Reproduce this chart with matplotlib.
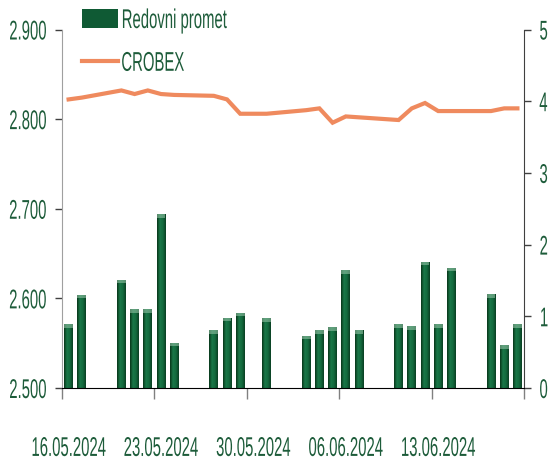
import numpy as np
import pandas as pd
import matplotlib
matplotlib.use('Agg')
import matplotlib.pyplot as plt
import matplotlib.dates as mdates
from matplotlib.patches import Patch
from matplotlib.lines import Line2D
from matplotlib.colors import LinearSegmentedColormap
from matplotlib.patheffects import AbstractPathEffect
from matplotlib.transforms import Affine2D

dates = ['2024-05-16', '2024-05-17', '2024-05-20', '2024-05-21', '2024-05-22', '2024-05-23',
         '2024-05-24', '2024-05-27', '2024-05-28', '2024-05-29', '2024-05-31', '2024-06-03',
         '2024-06-04', '2024-06-05', '2024-06-06', '2024-06-07', '2024-06-10', '2024-06-11',
         '2024-06-12', '2024-06-13', '2024-06-14', '2024-06-17', '2024-06-18', '2024-06-19']
redovni_promet = [0.89, 1.30, 1.51, 1.10, 1.10, 2.42, 0.63, 0.81, 0.98, 1.05, 0.97, 0.73,
                  0.81, 0.85, 1.64, 0.81, 0.89, 0.86, 1.76, 0.89, 1.68, 1.31, 0.60, 0.89]
crobex = [2822, 2824, 2832, 2828, 2832, 2828, 2827, 2826, 2822, 2806, 2806, 2810,
          2812, 2796, 2803, 2802, 2799, 2812, 2818, 2809, 2809, 2809, 2812, 2812]
label_dates = ['2024-05-16', '2024-05-23', '2024-05-30', '2024-06-06', '2024-06-13']

text_green = '#1d5c3a'
line_color = '#ef8a5e'
plt.rcParams['font.family'] = ['Liberation Sans', 'DejaVu Sans']
fs = 19.5
sx = 0.55


class Squeeze(AbstractPathEffect):
    # narrow the glyphs horizontally (reference uses a very condensed font)
    def __init__(self, sx, anchor):
        super().__init__()
        self.sx = sx
        self.anchor = anchor

    def draw_path(self, renderer, gc, tpath, affine, rgbFace=None):
        ext = tpath.get_extents()
        cx = {'left': ext.x0, 'right': ext.x1, 'center': 0.5 * (ext.x0 + ext.x1)}[self.anchor]
        squeeze = Affine2D().translate(-cx, 0).scale(self.sx, 1).translate(cx, 0)
        renderer.draw_path(gc, tpath, squeeze + affine, rgbFace)


x = mdates.date2num(pd.to_datetime(dates))
x_lab = mdates.date2num(pd.to_datetime(label_dates))
start = x[0] - 0.5

fig = plt.figure(figsize=(5.48, 4.62), dpi=100)
ax = fig.add_axes([62 / 548, 1 - 388 / 462, 462 / 548, 358.5 / 462])
ax2 = ax.twinx()

# CROBEX line on left axis
ax.plot(x, crobex, color=line_color, lw=3.0, solid_joinstyle='miter', zorder=5)
ax.set_ylim(2500, 2900)
ax.set_yticks([2500, 2600, 2700, 2800, 2900])
ax.set_yticklabels(['{:,}'.format(v).replace(',', '.') for v in [2500, 2600, 2700, 2800, 2900]])

# bars with horizontal gradient
cmap = LinearSegmentedColormap.from_list('g', ['#083519', '#1a7848', '#136a3e', '#0a3f22'])
grad = np.linspace(0, 1, 64).reshape(1, -1)
bars = ax2.bar(x, redovni_promet, width=0.68, color='#15643c', zorder=2)
for b in bars:
    im = ax2.imshow(grad, cmap=cmap, aspect='auto', zorder=3,
                    extent=[b.get_x(), b.get_x() + b.get_width(), 0, b.get_height()])
    im.set_clip_path(b)
ax2.bar(x, [0.05] * len(x), bottom=np.array(redovni_promet) - 0.05, width=0.68,
        color='#8fc0a2', alpha=0.6, zorder=4)
ax2.set_ylim(0, 5)
ax2.set_yticks([0, 1, 2, 3, 4, 5])

ax.set_xlim(start, start + 35)
ax.set_xticks(start + np.arange(0, 36, 7))
ax.set_xticklabels([])
ax.set_xticks(x_lab, minor=True)
ax.set_xticklabels([pd.Timestamp(d).strftime('%d.%m.%Y') for d in label_dates], minor=True)
ax.tick_params(axis='x', which='major', length=8, color='#808080', width=1)
ax.tick_params(axis='x', which='minor', length=0, pad=34.5, labelsize=fs, labelcolor=text_green)
ax.tick_params(axis='y', length=5, width=1, color='#404040', labelsize=fs, labelcolor=text_green, pad=5.8)
ax2.tick_params(axis='y', length=5, width=1, color='#404040', labelsize=fs, labelcolor=text_green, pad=5.8)

for a in (ax, ax2):
    a.spines['top'].set_visible(False)
    a.patch.set_visible(False)
ax.spines['left'].set_color('#a0a0a0')
ax2.spines['left'].set_visible(False)
ax2.spines['bottom'].set_visible(False)
ax.spines['right'].set_visible(False)
ax2.spines['right'].set_color('#404040')
ax.spines['bottom'].set_color('black')
ax.set_zorder(ax2.get_zorder() + 1)

handles = [Patch(facecolor='#0f5a34', edgecolor='none'),
           Line2D([], [], color=line_color, lw=3.0)]
leg = fig.legend(handles, ['Redovni promet', 'CROBEX'], loc='upper left',
                 bbox_to_anchor=(82 / 548, 1 - 8 / 462), frameon=False, fontsize=fs,
                 labelcolor=text_green, handlelength=1.33, handleheight=0.75,
                 handletextpad=0.1, borderpad=0, borderaxespad=0, labelspacing=0.62)

for t in ax.get_yticklabels():
    t.set_path_effects([Squeeze(sx, 'right')])
for t in ax2.get_yticklabels():
    t.set_path_effects([Squeeze(sx, 'left')])
for t in ax.get_xticklabels(minor=True):
    t.set_path_effects([Squeeze(sx, 'center')])
for t in leg.get_texts():
    t.set_path_effects([Squeeze(sx, 'left')])

fig.savefig('out.png', dpi=100)
